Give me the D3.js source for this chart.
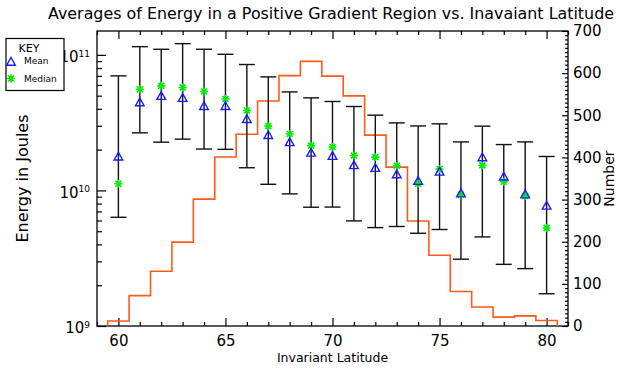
<!DOCTYPE html>
<html lang="en">
<head>
    <meta charset="UTF-8">
    <title>Averages of Energy vs. Invariant Latitude</title>
    <style>
        body {
            margin: 0;
            padding: 0;
            background: white;
        }

        text {
            font-family: "DejaVu Sans", Arial, sans-serif;
            fill: black;
        }

        .axis .domain {
            display: none;
        }

        .axis line {
            stroke: black;
            stroke-width: 1.2px;
        }
    </style>
</head>
<body>
    <script src="https://d3js.org/d3.v7.min.js"></script>
    <script>
        // Invariant latitude bins
        const latitudes = [60, 61, 62, 63, 64, 65, 66, 67, 68, 69, 70, 71, 72, 73, 74, 75, 76, 77, 78, 79, 80];

        // Energy statistics (Joules)
        const meanEnergy   = [1.77e10, 4.45e10, 4.96e10, 4.79e10, 4.18e10, 4.18e10, 3.35e10, 2.55e10, 2.26e10, 1.89e10, 1.79e10,
                              1.53e10, 1.46e10, 1.31e10, 1.17e10, 1.37e10, 9.46e9, 1.75e10, 1.26e10, 9.3e9, 7.69e9];
        const medianEnergy = [1.12e10, 5.58e10, 5.91e10, 5.75e10, 5.37e10, 4.73e10, 3.89e10, 2.98e10, 2.61e10, 2.14e10, 2.09e10,
                              1.81e10, 1.76e10, 1.52e10, 1.12e10, 1.44e10, 9.3e9, 1.53e10, 1.16e10, 9.1e9, 5.29e9];
        const upperEnergy  = [7.0e10, 1.15e11, 1.10e11, 1.21e11, 1.10e11, 1.01e11, 8.49e10, 6.88e10, 5.33e10, 4.82e10, 4.53e10,
                              4.16e10, 3.59e10, 3.15e10, 2.99e10, 3.10e10, 2.28e10, 2.98e10, 2.18e10, 2.28e10, 1.78e10];
        const lowerEnergy  = [6.34e9, 2.66e10, 2.27e10, 2.39e10, 2.02e10, 2.01e10, 1.47e10, 1.11e10, 9.43e9, 7.52e9, 7.54e9,
                              5.96e9, 5.32e9, 5.42e9, 4.83e9, 5.15e9, 3.11e9, 4.54e9, 2.85e9, 2.65e9, 1.73e9];

        // Number of events per latitude bin (right axis)
        const eventCounts = [12, 72, 130, 199, 301, 401, 455, 534, 594, 628, 593, 546, 453, 377, 249, 168, 82, 45, 21, 24, 13];

        // Tick values
        const xMajorTicks = [60, 65, 70, 75, 80];
        const leftMajorTicks = [1e9, 1e10, 1e11];
        const rightMajorTicks = [0, 100, 200, 300, 400, 500, 600, 700];

        const W = 617, H = 368;
        const margin = { top: 31, right: 49, bottom: 42, left: 97 };
        const width = W - margin.left - margin.right;
        const height = H - margin.top - margin.bottom;

        const svg = d3.select("body").append("svg")
            .attr("width", W)
            .attr("height", H);

        const g = svg.append("g")
            .attr("transform", "translate(" + margin.left + "," + margin.top + ")");

        // Scales
        const x = d3.scaleLinear().domain([59, 81]).range([0, width]);
        const yLeft = d3.scaleLog().domain([1e9, 1.5e11]).range([height, 0]);
        const yRight = d3.scaleLinear().domain([0, 700]).range([height, 0]);

        // minor ticks
        const xMinorTicks = d3.range(59, 82).filter(v => !xMajorTicks.includes(v));
        const leftMinorTicks = [];
        [1e9, 1e10, 1e11].forEach(dec => {
            for (let k = 2; k <= 9; k++) {
                if (k * dec < 1.5e11) leftMinorTicks.push(k * dec);
            }
        });
        const rightMinorTicks = d3.range(0, 701, 10).filter(v => v % 100 !== 0);

        // Bottom axis
        g.append("g").attr("class", "axis")
            .attr("transform", "translate(0," + height + ")")
            .call(d3.axisBottom(x).tickValues(xMajorTicks).tickSizeInner(-8).tickSizeOuter(0).tickPadding(9))
            .selectAll("text").style("font-size", "15px").style("font-family", "DejaVu Sans");
        g.append("g").attr("class", "axis")
            .attr("transform", "translate(0," + height + ")")
            .call(d3.axisBottom(x).tickValues(xMinorTicks).tickSizeInner(-4).tickSizeOuter(0).tickFormat(""));

        // Top axis (ticks only)
        g.append("g").attr("class", "axis")
            .call(d3.axisTop(x).tickValues(xMajorTicks).tickSizeInner(-8).tickSizeOuter(0).tickFormat(""));
        g.append("g").attr("class", "axis")
            .call(d3.axisTop(x).tickValues(xMinorTicks).tickSizeInner(-4).tickSizeOuter(0).tickFormat(""));

        // Left log axis
        const leftAxis = g.append("g").attr("class", "axis")
            .call(d3.axisLeft(yLeft).tickValues(leftMajorTicks).tickSizeInner(-9).tickSizeOuter(0).tickPadding(7));
        leftAxis.selectAll(".tick text").each(function(d) {
            const t = d3.select(this);
            t.text(null).style("font-size", "15px").style("font-family", "DejaVu Sans").attr("dy", "0.45em");
            t.append("tspan").text("10");
            t.append("tspan").attr("dy", "-0.6em").style("font-size", "9px").text(Math.round(Math.log10(d)));
        });
        g.append("g").attr("class", "axis")
            .call(d3.axisLeft(yLeft).tickValues(leftMinorTicks).tickSizeInner(-5).tickSizeOuter(0).tickFormat(""));

        // Right axis
        g.append("g").attr("class", "axis")
            .attr("transform", "translate(" + width + ",0)")
            .call(d3.axisRight(yRight).tickValues(rightMajorTicks).tickSizeInner(-6).tickSizeOuter(0).tickPadding(5))
            .selectAll("text").style("font-size", "15px").style("font-family", "DejaVu Sans");
        g.append("g").attr("class", "axis")
            .attr("transform", "translate(" + width + ",0)")
            .call(d3.axisRight(yRight).tickValues(rightMinorTicks).tickSizeInner(-3).tickSizeOuter(0).tickFormat(""));

        // Frame
        g.append("rect")
            .attr("width", width)
            .attr("height", height)
            .attr("fill", "none")
            .attr("stroke", "black")
            .attr("stroke-width", 1.3);

        // Histogram of counts (step line)
        const histPoints = [[latitudes[0] - 0.5, 0]];
        latitudes.forEach((lat, i) => {
            histPoints.push([lat - 0.5, eventCounts[i]]);
            histPoints.push([lat + 0.5, eventCounts[i]]);
        });
        histPoints.push([latitudes[latitudes.length - 1] + 0.5, 0]);

        g.append("path")
            .datum(histPoints)
            .attr("fill", "none")
            .attr("stroke", "#ff5a1a")
            .attr("stroke-width", 1.6)
            .attr("d", d3.line().x(d => x(d[0])).y(d => yRight(d[1])));

        // Error bars
        const capHalf = 8;
        const bars = g.selectAll(".errbar")
            .data(latitudes)
            .enter().append("g")
            .attr("class", "errbar")
            .attr("stroke", "#111")
            .attr("stroke-width", 1.4);
        bars.append("line")
            .attr("x1", d => x(d)).attr("x2", d => x(d))
            .attr("y1", (d, i) => yLeft(upperEnergy[i]))
            .attr("y2", (d, i) => yLeft(lowerEnergy[i]));
        bars.append("line")
            .attr("x1", d => x(d) - capHalf).attr("x2", d => x(d) + capHalf)
            .attr("y1", (d, i) => yLeft(upperEnergy[i]))
            .attr("y2", (d, i) => yLeft(upperEnergy[i]));
        bars.append("line")
            .attr("x1", d => x(d) - capHalf).attr("x2", d => x(d) + capHalf)
            .attr("y1", (d, i) => yLeft(lowerEnergy[i]))
            .attr("y2", (d, i) => yLeft(lowerEnergy[i]));

        // marker shapes
        const trianglePath = "M0,-4.5L4.3,3.2L-4.3,3.2Z";
        const asteriskPath = "M0,-4V4M-4,0H4M-3,-3L3,3M-3,3L3,-3";

        // Median (asterisks)
        g.selectAll(".median")
            .data(latitudes)
            .enter().append("path")
            .attr("class", "median")
            .attr("transform", (d, i) => "translate(" + x(d) + "," + yLeft(medianEnergy[i]) + ")")
            .attr("d", asteriskPath)
            .attr("fill", "none")
            .attr("stroke", "#00ee00")
            .attr("stroke-width", 1.6);

        // Mean (triangles)
        g.selectAll(".mean")
            .data(latitudes)
            .enter().append("path")
            .attr("class", "mean")
            .attr("transform", (d, i) => "translate(" + x(d) + "," + yLeft(meanEnergy[i]) + ")")
            .attr("d", trianglePath)
            .attr("fill", "none")
            .attr("stroke", "#1a1aff")
            .attr("stroke-width", 1.4);

        // Title
        svg.append("text")
            .attr("x", 331)
            .attr("y", 19)
            .attr("text-anchor", "middle")
            .attr("textLength", 566)
            .attr("lengthAdjust", "spacingAndGlyphs")
            .style("font-size", "15px")
            .text("Averages of Energy in a Positive Gradient Region vs. Inavaiant Latitude");

        // X axis title
        svg.append("text")
            .attr("x", margin.left + x(70))
            .attr("y", 362)
            .attr("text-anchor", "middle")
            .style("font-size", "12.5px")
            .text("Invariant Latitude");

        // Left axis title
        svg.append("text")
            .attr("transform", "translate(28," + (margin.top + height / 2) + ") rotate(-90)")
            .attr("text-anchor", "middle")
            .style("font-size", "16px")
            .text("Energy in Joules");

        // Right axis title
        svg.append("text")
            .attr("transform", "translate(614," + (margin.top + height / 2) + ") rotate(-90)")
            .attr("text-anchor", "middle")
            .style("font-size", "14px")
            .text("Number");

        // Key box
        const key = svg.append("g");
        key.append("rect")
            .attr("x", 6).attr("y", 38.5)
            .attr("width", 58).attr("height", 52)
            .attr("fill", "white")
            .attr("stroke", "black")
            .attr("stroke-width", 1.2);
        key.append("text")
            .attr("x", 29).attr("y", 52)
            .attr("text-anchor", "middle")
            .style("font-size", "11px")
            .text("KEY");
        key.append("path")
            .attr("transform", "translate(11,62)")
            .attr("d", trianglePath)
            .attr("fill", "none")
            .attr("stroke", "#1a1aff")
            .attr("stroke-width", 1.4);
        key.append("text")
            .attr("x", 24).attr("y", 64)
            .style("font-size", "9px")
            .text("Mean");
        key.append("path")
            .attr("transform", "translate(11,78.5)")
            .attr("d", asteriskPath)
            .attr("fill", "none")
            .attr("stroke", "#00ee00")
            .attr("stroke-width", 1.6);
        key.append("text")
            .attr("x", 24).attr("y", 81.5)
            .style("font-size", "9px")
            .text("Median");
    </script>
</body>
</html>
